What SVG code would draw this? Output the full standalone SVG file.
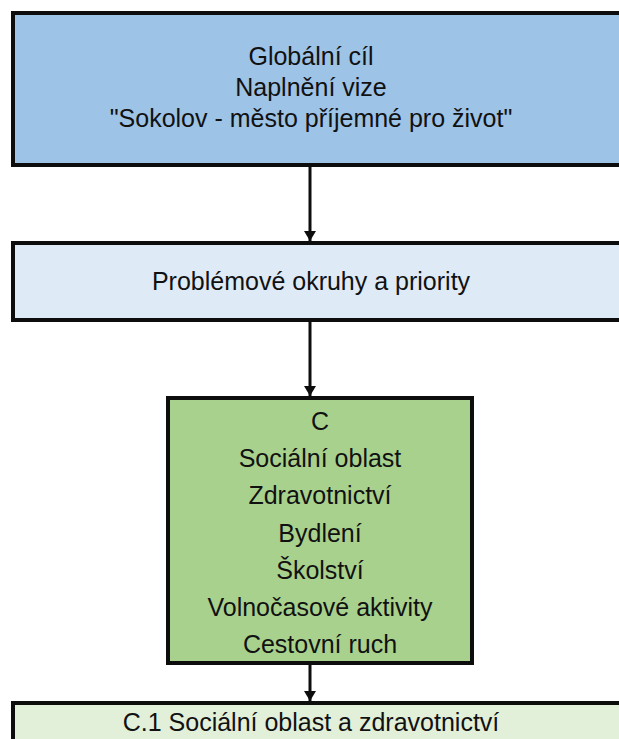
<svg xmlns="http://www.w3.org/2000/svg" width="619" height="739" viewBox="0 0 619 739">
<style>
.box{stroke:#0d0d0d;stroke-width:4}
.t{font-family:"Liberation Sans",Arial,sans-serif;font-size:25px;fill:#111111;text-anchor:middle}
.c{stroke:#0d0d0d;stroke-width:3;fill:none}
</style>
<defs>
<marker id="ah" markerWidth="12" markerHeight="12" refX="10" refY="6" orient="auto" markerUnits="userSpaceOnUse">
<path d="M0,0 L10,6 L0,12 Z" fill="#0d0d0d"/>
</marker>
</defs>
<rect width="619" height="739" fill="#ffffff"/>
<g id="connectors">
<line class="c" x1="310" y1="166" x2="310" y2="241" marker-end="url(#ah)"/>
<line class="c" x1="310" y1="322" x2="310" y2="396" marker-end="url(#ah)"/>
<line class="c" x1="310" y1="665" x2="310" y2="701" marker-end="url(#ah)"/>
</g>
<g id="global">
<rect class="box" x="13" y="13" width="620" height="152" fill="#9dc3e6"/>
<text class="t" x="311" y="65">Globální cíl</text>
<text class="t" x="311" y="96">Naplnění vize</text>
<text class="t" x="311" y="127">"Sokolov - město příjemné pro život"</text>
</g>
<g id="problems">
<rect class="box" x="13" y="243" width="620" height="77" fill="#deebf7"/>
<text class="t" x="311" y="290">Problémové okruhy a priority</text>
</g>
<g id="c">
<rect class="box" x="168" y="398" width="304" height="265" fill="#a9d18e"/>
<text class="t" x="320" y="430">C</text>
<text class="t" x="320" y="467">Sociální oblast</text>
<text class="t" x="320" y="504">Zdravotnictví</text>
<text class="t" x="320" y="542">Bydlení</text>
<text class="t" x="320" y="579">Školství</text>
<text class="t" x="320" y="616">Volnočasové aktivity</text>
<text class="t" x="320" y="653">Cestovní ruch</text>
</g>
<g id="c1">
<rect class="box" x="13" y="703" width="620" height="60" fill="#e2f0d9"/>
<text class="t" x="311" y="731">C.1 Sociální oblast a zdravotnictví</text>
</g>
</svg>
